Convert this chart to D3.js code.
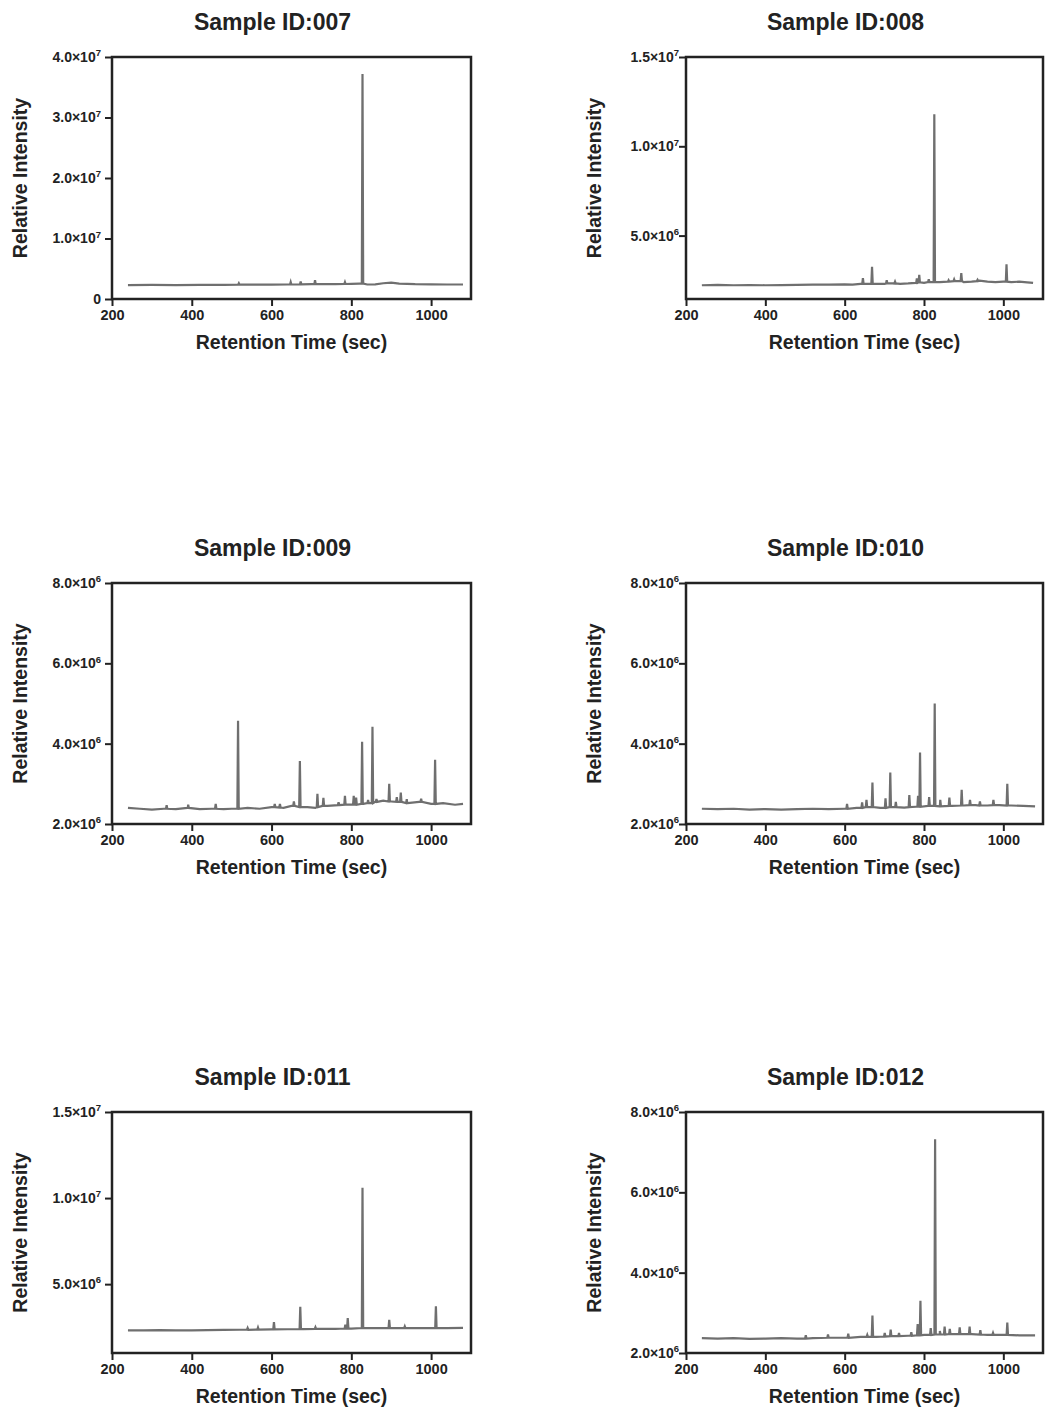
<!DOCTYPE html>
<html>
<head>
<meta charset="utf-8">
<script src="https://cdn.jsdelivr.net/npm/d3@7"></script>
<style>
  html, body { margin: 0; padding: 0; background: #fff; }
  svg { display: block; }
  text { font-family: "Liberation Sans", Arial, Helvetica, sans-serif; font-weight: bold; fill: #222; }
</style>
</head>
<body>
<svg id="chart" width="1045" height="1414"></svg>
<script>
// ---------------- DATA ----------------
const sampleIds = ["007", "008", "009", "010", "011", "012"];
const xTicks = [200, 400, 600, 800, 1000];
const xDomain = [200, 1100];

const yDomain007 = [0, 4.0e7];
const yDomain008 = [1.45e6, 1.5e7];
const yDomain009 = [2.0e6, 8.0e6];
const yDomain010 = [2.0e6, 8.0e6];
const yDomain011 = [1.0e6, 1.5e7];
const yDomain012 = [2.0e6, 8.0e6];

const yTicks007 = [0, 1.0e7, 2.0e7, 3.0e7, 4.0e7];
const yTicks008 = [5.0e6, 1.0e7, 1.5e7];
const yTicks009 = [2.0e6, 4.0e6, 6.0e6, 8.0e6];
const yTicks010 = [2.0e6, 4.0e6, 6.0e6, 8.0e6];
const yTicks011 = [5.0e6, 1.0e7, 1.5e7];
const yTicks012 = [2.0e6, 4.0e6, 6.0e6, 8.0e6];

// baseline samples: [retention time (s), intensity]
const base007 = [[240,2.30e6],[300,2.32e6],[360,2.30e6],[420,2.33e6],[480,2.35e6],[540,2.36e6],[600,2.38e6],[640,2.40e6],[700,2.45e6],[760,2.45e6],[800,2.50e6],[820,2.55e6],[840,2.40e6],[860,2.42e6],[880,2.60e6],[900,2.70e6],[920,2.55e6],[960,2.45e6],[1000,2.42e6],[1040,2.40e6],[1080,2.40e6]];
const base008 = [[240,2.22e6],[280,2.24e6],[320,2.22e6],[360,2.23e6],[400,2.22e6],[440,2.23e6],[480,2.24e6],[520,2.26e6],[560,2.25e6],[600,2.27e6],[620,2.26e6],[640,2.30e6],[680,2.30e6],[700,2.30e6],[720,2.33e6],[740,2.30e6],[760,2.32e6],[780,2.35e6],[800,2.35e6],[815,2.40e6],[840,2.40e6],[860,2.42e6],[880,2.45e6],[900,2.40e6],[920,2.42e6],[940,2.48e6],[960,2.42e6],[980,2.40e6],[1000,2.42e6],[1020,2.40e6],[1040,2.42e6],[1060,2.38e6],[1075,2.35e6]];
const base009 = [[240,2.40e6],[270,2.38e6],[300,2.36e6],[330,2.38e6],[360,2.37e6],[390,2.40e6],[420,2.37e6],[450,2.38e6],[480,2.37e6],[500,2.38e6],[540,2.40e6],[570,2.38e6],[600,2.42e6],[630,2.40e6],[650,2.45e6],[690,2.42e6],[710,2.40e6],[740,2.45e6],[770,2.47e6],[800,2.48e6],[830,2.50e6],[860,2.55e6],[880,2.58e6],[900,2.56e6],[940,2.52e6],[970,2.55e6],[1000,2.50e6],[1030,2.52e6],[1060,2.48e6],[1080,2.50e6]];
const base010 = [[240,2.38e6],[280,2.37e6],[320,2.38e6],[360,2.36e6],[400,2.37e6],[440,2.36e6],[480,2.37e6],[520,2.38e6],[560,2.37e6],[600,2.38e6],[630,2.40e6],[660,2.42e6],[690,2.40e6],[720,2.42e6],[750,2.41e6],[780,2.43e6],[810,2.45e6],[840,2.44e6],[870,2.45e6],[900,2.46e6],[930,2.47e6],[960,2.46e6],[990,2.47e6],[1020,2.46e6],[1050,2.45e6],[1080,2.44e6]];
const base011 = [[240,2.32e6],[280,2.31e6],[320,2.33e6],[360,2.32e6],[400,2.32e6],[440,2.33e6],[480,2.34e6],[520,2.35e6],[560,2.36e6],[600,2.37e6],[640,2.38e6],[680,2.39e6],[720,2.40e6],[760,2.40e6],[800,2.42e6],[840,2.45e6],[880,2.45e6],[920,2.45e6],[960,2.45e6],[1000,2.44e6],[1040,2.45e6],[1080,2.46e6]];
const base012 = [[240,2.37e6],[280,2.36e6],[320,2.37e6],[360,2.35e6],[400,2.36e6],[440,2.37e6],[480,2.36e6],[520,2.37e6],[560,2.38e6],[600,2.38e6],[640,2.40e6],[680,2.40e6],[720,2.42e6],[760,2.43e6],[800,2.45e6],[840,2.46e6],[880,2.47e6],[920,2.47e6],[960,2.45e6],[1000,2.45e6],[1040,2.44e6],[1080,2.44e6]];

// peaks: [retention time (s), foot intensity, apex intensity]
const peaks007 = [[518,2.36e6,2.6e6],[648,2.40e6,2.8e6],[673,2.42e6,2.9e6],[709,2.45e6,3.1e6],[784,2.48e6,2.8e6],[828,2.55e6,3.72e7]];
const peaks008 = [[646,2.30e6,2.62e6],[669,2.30e6,3.25e6],[706,2.32e6,2.50e6],[727,2.32e6,2.42e6],[782,2.35e6,2.60e6],[788,2.38e6,2.80e6],[812,2.40e6,2.55e6],[826,2.40e6,1.18e7],[862,2.42e6,2.50e6],[876,2.45e6,2.55e6],[894,2.45e6,2.90e6],[935,2.45e6,2.52e6],[1008,2.42e6,3.40e6]];
const peaks009 = [[337,2.38e6,2.47e6],[391,2.40e6,2.48e6],[460,2.38e6,2.50e6],[516,2.38e6,4.57e6],[608,2.42e6,2.50e6],[621,2.41e6,2.50e6],[656,2.45e6,2.56e6],[671,2.42e6,3.57e6],[715,2.42e6,2.75e6],[730,2.45e6,2.65e6],[768,2.47e6,2.54e6],[784,2.48e6,2.70e6],[806,2.48e6,2.70e6],[812,2.48e6,2.66e6],[827,2.50e6,4.05e6],[842,2.52e6,2.60e6],[853,2.52e6,4.42e6],[863,2.55e6,2.62e6],[895,2.56e6,3.00e6],[914,2.55e6,2.67e6],[924,2.55e6,2.78e6],[939,2.52e6,2.62e6],[975,2.55e6,2.63e6],[1010,2.50e6,3.60e6]];
const peaks010 = [[606,2.38e6,2.50e6],[644,2.40e6,2.54e6],[655,2.42e6,2.60e6],[670,2.42e6,3.03e6],[703,2.40e6,2.64e6],[715,2.42e6,3.28e6],[729,2.42e6,2.55e6],[763,2.42e6,2.72e6],[785,2.43e6,2.70e6],[790,2.43e6,3.78e6],[813,2.45e6,2.67e6],[827,2.45e6,5.00e6],[841,2.44e6,2.60e6],[864,2.45e6,2.66e6],[895,2.46e6,2.85e6],[916,2.47e6,2.60e6],[941,2.46e6,2.56e6],[975,2.47e6,2.60e6],[1010,2.46e6,3.00e6]];
const peaks011 = [[540,2.35e6,2.45e6],[566,2.36e6,2.48e6],[606,2.37e6,2.80e6],[672,2.39e6,3.68e6],[710,2.40e6,2.50e6],[785,2.42e6,2.65e6],[791,2.42e6,3.03e6],[828,2.45e6,1.06e7],[895,2.45e6,2.93e6],[934,2.45e6,2.55e6],[1012,2.44e6,3.72e6]];
const peaks012 = [[502,2.36e6,2.44e6],[558,2.38e6,2.46e6],[609,2.38e6,2.48e6],[657,2.40e6,2.45e6],[670,2.40e6,2.93e6],[701,2.41e6,2.50e6],[716,2.42e6,2.58e6],[737,2.42e6,2.50e6],[768,2.43e6,2.52e6],[784,2.44e6,2.72e6],[791,2.44e6,3.30e6],[817,2.45e6,2.62e6],[828,2.46e6,7.32e6],[840,2.46e6,2.55e6],[852,2.46e6,2.66e6],[865,2.47e6,2.60e6],[890,2.47e6,2.64e6],[915,2.47e6,2.66e6],[942,2.46e6,2.57e6],[974,2.45e6,2.50e6],[1010,2.45e6,2.76e6]];

const titlePrefix = "Sample ID:";
const xLabel = "Retention Time (sec)";
const yLabel = "Relative Intensity";

// ---------------- LAYOUT / STYLE ----------------
const columns = [[112, 471], [686, 1043]];
const rows = [[57, 299], [583, 824], [1112, 1353]];
const peakHalfWidth = 1.7; // seconds
const lineColor = "#6f6f6f";
const axisColor = "#222";

const panels = [
  { id: sampleIds[0], yDomain: yDomain007, yTicks: yTicks007, base: base007, peaks: peaks007 },
  { id: sampleIds[1], yDomain: yDomain008, yTicks: yTicks008, base: base008, peaks: peaks008 },
  { id: sampleIds[2], yDomain: yDomain009, yTicks: yTicks009, base: base009, peaks: peaks009 },
  { id: sampleIds[3], yDomain: yDomain010, yTicks: yTicks010, base: base010, peaks: peaks010 },
  { id: sampleIds[4], yDomain: yDomain011, yTicks: yTicks011, base: base011, peaks: peaks011 },
  { id: sampleIds[5], yDomain: yDomain012, yTicks: yTicks012, base: base012, peaks: peaks012 }
];

const svg = d3.select("#chart");

function sciParts(v) {
  if (v === 0) return null;
  const e = Math.floor(Math.log10(v) + 1e-9);
  const m = v / Math.pow(10, e);
  return { m: m.toFixed(1), e: String(e) };
}

panels.forEach((p, i) => {
  const col = i % 2, row = Math.floor(i / 2);
  const [x0, x1] = columns[col];
  const [y0, y1] = rows[row];
  const labelGap = col === 0 ? 11 : 7;

  const x = d3.scaleLinear().domain(xDomain).range([x0, x1]);
  const y = d3.scaleLinear().domain(p.yDomain).range([y1, y0]);

  const g = svg.append("g");

  const clipId = "clip" + i;
  svg.append("clipPath").attr("id", clipId)
    .append("rect").attr("x", x0).attr("y", y0).attr("width", x1 - x0).attr("height", y1 - y0);

  const pts = p.base.map(d => [d[0], d[1]]);
  p.peaks.forEach(pk => {
    pts.push([pk[0] - peakHalfWidth, pk[1]]);
    pts.push([pk[0], pk[2]]);
    pts.push([pk[0] + peakHalfWidth, pk[1]]);
  });
  pts.sort((a, b) => a[0] - b[0]);

  const line = d3.line().x(d => x(d[0])).y(d => y(d[1]));
  g.append("path")
    .attr("clip-path", `url(#${clipId})`)
    .attr("d", line(pts))
    .attr("fill", "none")
    .attr("stroke", lineColor)
    .attr("stroke-width", 2.2)
    .attr("stroke-linejoin", "miter");

  g.append("rect")
    .attr("x", x0).attr("y", y0)
    .attr("width", x1 - x0).attr("height", y1 - y0)
    .attr("fill", "none").attr("stroke", axisColor).attr("stroke-width", 2.5);

  const xAxis = g.append("g").attr("transform", `translate(0,${y1})`)
    .call(d3.axisBottom(x).tickValues(xTicks).tickSize(7).tickSizeOuter(0).tickPadding(4).tickFormat(d3.format("d")));
  xAxis.select(".domain").remove();
  xAxis.selectAll("line").attr("stroke", axisColor).attr("stroke-width", 2);
  xAxis.selectAll("text").attr("font-size", 14.5).attr("fill", axisColor)
    .attr("font-family", '"Liberation Sans", Arial, sans-serif').attr("font-weight", "bold");

  const yAxis = g.append("g").attr("transform", `translate(${x0},0)`)
    .call(d3.axisLeft(y).tickValues(p.yTicks).tickSize(7).tickSizeOuter(0).tickPadding(labelGap - 7).tickFormat(""));
  yAxis.select(".domain").remove();
  yAxis.selectAll("line").attr("stroke", axisColor).attr("stroke-width", 2);
  yAxis.selectAll(".tick text").each(function (d) {
    const t = d3.select(this)
      .attr("font-size", 14).attr("fill", axisColor)
      .attr("font-family", '"Liberation Sans", Arial, sans-serif').attr("font-weight", "bold");
    const s = sciParts(d);
    if (!s) { t.text("0"); return; }
    t.append("tspan").text(s.m + "\u00D710");
    t.append("tspan").attr("font-size", 9.5).attr("dy", "-0.6em").text(s.e);
  });

  g.append("text")
    .attr("x", (x0 + x1) / 2 - 19).attr("y", y0 - 27)
    .attr("text-anchor", "middle").attr("font-size", 23)
    .text(titlePrefix + p.id);

  g.append("text")
    .attr("x", (x0 + x1) / 2).attr("y", y1 + 50)
    .attr("text-anchor", "middle").attr("font-size", 19.5)
    .text(xLabel);

  g.append("text")
    .attr("transform", `translate(${x0 - 85},${(y0 + y1) / 2}) rotate(-90)`)
    .attr("text-anchor", "middle").attr("font-size", 19.5)
    .text(yLabel);
});
</script>
</body>
</html>
